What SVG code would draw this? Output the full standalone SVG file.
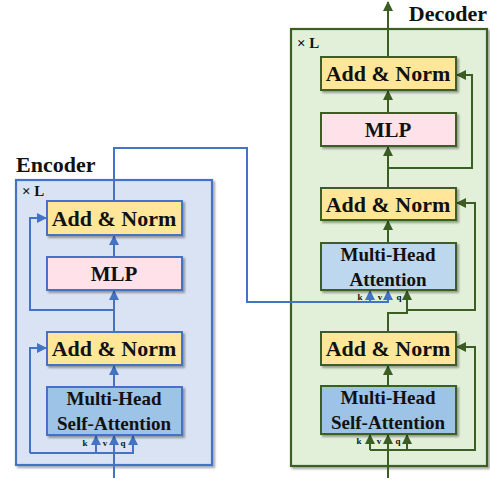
<svg xmlns="http://www.w3.org/2000/svg" width="490" height="480" viewBox="0 0 490 480">
<defs>
<filter id="sh" x="-10%" y="-10%" width="130%" height="130%"><feDropShadow dx="2" dy="2" stdDeviation="1.2" flood-color="#000" flood-opacity="0.35"/></filter>
<marker id="ab" viewBox="0 0 10 10" refX="9" refY="5" markerWidth="5" markerHeight="5" orient="auto"><path d="M0,0L10,5L0,10z" fill="#4472C4"/></marker>
<marker id="ag" viewBox="0 0 10 10" refX="9" refY="5" markerWidth="5" markerHeight="5" orient="auto"><path d="M0,0L10,5L0,10z" fill="#3B5E23"/></marker>
</defs>
<style>
text{font-family:"Liberation Serif","Times New Roman",serif;font-weight:bold;fill:#111}
.t{font-size:22px;text-anchor:middle}
.m{font-size:21px;text-anchor:middle}
.s{font-size:19px;text-anchor:middle}
.l{font-size:9px;text-anchor:middle}
.x{font-size:15px}
.h{font-size:22px}
.enc{fill:#dae3f3;stroke:#4472C4;stroke-width:2.2}
.dec{fill:#e2f0d9;stroke:#3B5E23;stroke-width:2.2}
.eb{stroke:#4472C4;stroke-width:2}
.db{stroke:#3B5E23;stroke-width:2}
.an{fill:#ffe699}
.mlp{fill:#ffe1ea}
.att{fill:#9dc3e6}
.att2{fill:#bdd7ee}
.cb{fill:none;stroke:#4472C4;stroke-width:2}
.cg{fill:none;stroke:#3B5E23;stroke-width:2}
</style>
<g id="encoder">
<rect class="enc" x="16" y="180" width="196" height="285" filter="url(#sh)"/>
<text class="h" x="16" y="172">Encoder</text>
<text class="x" x="22" y="196">× L</text>
</g>
<g id="decoder">
<rect class="dec" x="291" y="29" width="196" height="437" filter="url(#sh)"/>
<text class="h" x="487" y="21" text-anchor="end">Decoder</text>
<text class="x" x="297" y="48">× L</text>
</g>
<g id="connectors">
<path class="cb" d="M114,478V436" marker-end="url(#ab)"/>
<path class="cb" d="M30,453H133V436" marker-end="url(#ab)"/>
<path class="cb" d="M96,453V436" marker-end="url(#ab)"/>
<path class="cb" d="M30,453V348H46" marker-end="url(#ab)"/>
<path class="cb" d="M114,387V366" marker-end="url(#ab)"/>
<path class="cb" d="M114,332V291" marker-end="url(#ab)"/>
<path class="cb" d="M114,310H30V218H46" marker-end="url(#ab)"/>
<path class="cb" d="M114,257V236" marker-end="url(#ab)"/>
<path class="cb" d="M114,201V148H247V302H388V291" marker-end="url(#ab)"/>
<path class="cb" d="M370,302V291" marker-end="url(#ab)"/>
<path class="cg" d="M388,478V435" marker-end="url(#ag)"/>
<path class="cg" d="M370,450V435" marker-end="url(#ag)"/>
<path class="cg" d="M370,450H475V347H457" marker-end="url(#ag)"/>
<path class="cg" d="M407,450V435" marker-end="url(#ag)"/>
<path class="cg" d="M388,386V366" marker-end="url(#ag)"/>
<path class="cg" d="M388,332V313H407V291" marker-end="url(#ag)"/>
<path class="cg" d="M407,310H475V203H457" marker-end="url(#ag)"/>
<path class="cg" d="M388,243V221" marker-end="url(#ag)"/>
<path class="cg" d="M388,188V147" marker-end="url(#ag)"/>
<path class="cg" d="M388,168H472V75H457" marker-end="url(#ag)"/>
<path class="cg" d="M388,113V91" marker-end="url(#ag)"/>
<path class="cg" d="M388,57V2" marker-end="url(#ag)"/>
</g>
<g id="enc-addnorm2"><rect class="an eb" x="47" y="201" width="135" height="34" filter="url(#sh)"/><text class="t" x="114" y="226">Add &amp; Norm</text></g>
<g id="enc-mlp"><rect class="mlp eb" x="47" y="257" width="135" height="33" filter="url(#sh)"/><text class="m" x="114" y="281">MLP</text></g>
<g id="enc-addnorm1"><rect class="an eb" x="47" y="332" width="135" height="33" filter="url(#sh)"/><text class="t" x="114" y="356">Add &amp; Norm</text></g>
<g id="enc-mhsa"><rect class="att eb" x="47" y="387" width="135" height="48" filter="url(#sh)"/><text class="s" x="114" y="405">Multi-Head</text><text class="s" x="114" y="430">Self-Attention</text></g>
<g id="enc-kvq"><text class="l" x="85" y="446">k</text><text class="l" x="105" y="446">v</text><text class="l" x="123" y="446">q</text></g>
<g id="dec-addnorm3"><rect class="an db" x="321" y="57" width="135" height="33" filter="url(#sh)"/><text class="t" x="388" y="81">Add &amp; Norm</text></g>
<g id="dec-mlp"><rect class="mlp db" x="321" y="113" width="135" height="33" filter="url(#sh)"/><text class="m" x="388" y="137">MLP</text></g>
<g id="dec-addnorm2"><rect class="an db" x="321" y="188" width="135" height="32" filter="url(#sh)"/><text class="t" x="388" y="212">Add &amp; Norm</text></g>
<g id="dec-mha"><rect class="att2 db" x="321" y="243" width="135" height="47" filter="url(#sh)"/><text class="s" x="388" y="261">Multi-Head</text><text class="s" x="388" y="286">Attention</text></g>
<g id="dec-kvq1"><text class="l" x="360" y="300">k</text><text class="l" x="380" y="300">v</text><text class="l" x="399" y="300">q</text></g>
<g id="dec-addnorm1"><rect class="an db" x="321" y="332" width="135" height="33" filter="url(#sh)"/><text class="t" x="388" y="356">Add &amp; Norm</text></g>
<g id="dec-mhsa"><rect class="att db" x="321" y="386" width="135" height="48" filter="url(#sh)"/><text class="s" x="388" y="404">Multi-Head</text><text class="s" x="388" y="429">Self-Attention</text></g>
<g id="dec-kvq2"><text class="l" x="359" y="444">k</text><text class="l" x="379" y="444">v</text><text class="l" x="398" y="444">q</text></g>
</svg>
